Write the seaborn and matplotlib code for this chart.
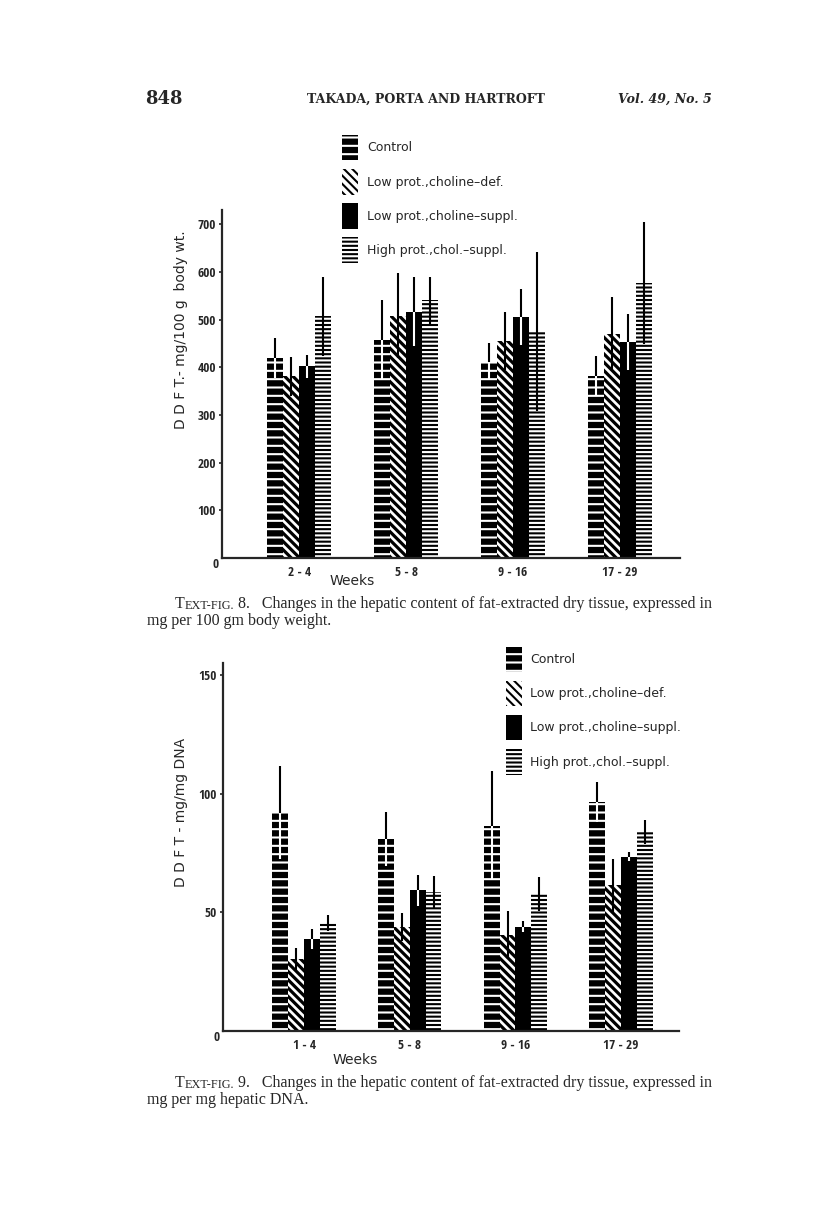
import matplotlib
matplotlib.use('Agg')
import matplotlib.pyplot as plt
from matplotlib import font_manager
from matplotlib.patches import Patch
import numpy as np
import pandas as pd
import seaborn as sns

# diets (hue levels) and their fill patterns
diets = ['Control', 'Low prot.,choline–def.', 'Low prot.,choline–suppl.', 'High prot.,chol.–suppl.']
patterns = ['--', '\\\\\\\\', '', '----']
faces = ['black', 'white', 'black', 'black']
hatch_colors = ['white', 'black', 'white', 'white']
hatch_widths = [1.5, 2.3, 1.5, 1.5]
lower_err_colors = ['white', 'black', 'white', 'black']

# Text-fig. 8: mg per 100 g body weight
weeks_8 = ['2 - 4', '5 - 8', '9 - 16', '17 - 29']
control_8 = [419, 458, 412, 381]
lowdef_8 = [381, 508, 456, 470]
lowsup_8 = [402, 517, 506, 453]
highsup_8 = [507, 541, 475, 577]
control_8_err = [42, 84, 39, 42]
lowdef_8_err = [40, 89, 61, 78]
lowsup_8_err = [24, 73, 58, 59]
highsup_8_err = [83, 49, 167, 128]
yticks_8 = [100, 200, 300, 400, 500, 600, 700]

# Text-fig. 9: mg per mg DNA
weeks_9 = ['1 - 4', '5 - 8', '9 - 16', '17 - 29']
control_9 = [91.9, 80.9, 86.4, 96.5]
lowdef_9 = [30.2, 43.9, 40.4, 61.3]
lowsup_9 = [38.7, 59.2, 43.9, 73.4]
highsup_9 = [45.5, 58.5, 57.8, 83.8]
control_9_err = [19.5, 11.4, 22.9, 8.4]
lowdef_9_err = [4.9, 5.8, 10.2, 11.1]
lowsup_9_err = [4.3, 6.5, 2.3, 1.8]
highsup_9_err = [3.5, 6.8, 7.2, 4.9]
yticks_9 = [50, 100, 150]

W, H = 816, 1230

sns.set_style('ticks')
plt.rcParams['font.family'] = ['DejaVu Sans']
plt.rcParams['hatch.linewidth'] = 1.5

# a narrow face for the numbers if one is installed
installed = {f.name for f in font_manager.fontManager.ttflist}
narrow = 'DejaVu Sans'
for name in ['Liberation Sans Narrow', 'Open Sans Condensed', 'Roboto Condensed']:
    if name in installed:
        narrow = name
        break

# without per-patch hatch widths, use a denser diagonal instead
if not hasattr(Patch(), 'set_hatch_linewidth'):
    patterns[1] = '\\\\\\\\\\\\'

tick_font = dict(family=narrow, stretch='condensed', weight='bold', size=9.5)
legend_font = dict(family='DejaVu Sans', size=9)


def px(x, y):
    return x / W, 1 - y / H


def style_patch(p, i):
    p.set_facecolor(faces[i])
    p.set_edgecolor(hatch_colors[i])
    p.set_linewidth(0)
    p.set_hatch(patterns[i])
    if hasattr(p, 'set_hatch_linewidth'):
        p.set_hatch_linewidth(hatch_widths[i])


def draw_chart(ax, weeks, series, errors, yticks, ylim, xlim, ylabel):
    rows = []
    for diet, vals in zip(diets, series):
        for wk, v in zip(weeks, vals):
            rows.append({'weeks': wk, 'diet': diet, 'value': v})
    df = pd.DataFrame(rows)
    sns.barplot(data=df, x='weeks', y='value', hue='diet', order=weeks, hue_order=diets,
                palette=['black'] * 4, width=0.6, gap=0, saturation=1,
                errorbar=None, legend=False, ax=ax)
    for i, (cont, vals, errs) in enumerate(zip(ax.containers, series, errors)):
        xs = []
        for bar in cont:
            style_patch(bar, i)
            xs.append(bar.get_x() + bar.get_width() / 2)
        zeros = np.zeros(len(vals))
        ax.errorbar(xs, vals, yerr=[zeros, errs], fmt='none', ecolor='black',
                    elinewidth=1.5, capsize=0, zorder=3)
        ax.errorbar(xs, vals, yerr=[errs, zeros], fmt='none', ecolor=lower_err_colors[i],
                    elinewidth=1.5, capsize=0, zorder=3)
    sns.despine(ax=ax)
    for sp in ['left', 'bottom']:
        ax.spines[sp].set_linewidth(1.6)
    ax.set_ylim(*ylim)
    ax.set_xlim(*xlim)
    ax.set_yticks(yticks)
    ax.set_yticklabels([str(t) for t in yticks], fontdict=tick_font)
    ax.set_xticks(range(len(weeks)))
    ax.set_xticklabels(weeks, fontdict=tick_font)
    ax.tick_params(axis='y', direction='out', length=2.5, width=1.2, pad=1.5)
    ax.tick_params(axis='x', length=0, pad=6)
    ax.text(-0.006, 0, '0', transform=ax.get_yaxis_transform(), ha='right', va='top',
            fontdict=tick_font)
    ax.set_ylabel(ylabel, fontsize=10)
    ax.set_xlabel('Weeks', fontsize=10)


def add_legend(fig, ax, x, y, textpad):
    handles = []
    for i in range(len(diets)):
        p = Patch()
        style_patch(p, i)
        handles.append(p)
    ax.legend(handles, diets, loc='upper left', bbox_to_anchor=px(x, y),
              bbox_transform=fig.transFigure, frameon=False, borderpad=0,
              borderaxespad=0, handlelength=1.3, handleheight=2.75,
              handletextpad=textpad, labelspacing=0.7, prop=legend_font)


def caption(fig, ax, x1, x2, y, num, rest, line2):
    serif = dict(family='Liberation Serif', size=11.5)
    t = fig.text(*px(x1, y), 'T', va='bottom', ha='left', fontdict=serif)
    s = ax.annotate('EXT-FIG.', xy=(1, 0), xycoords=t, va='bottom', ha='left',
                    family='Liberation Serif', size=8.8, annotation_clip=False)
    ax.annotate(' ' + num + '.   ' + rest, xy=(1, 0), xycoords=s, va='bottom', ha='left',
                family='Liberation Serif', size=11.5, annotation_clip=False)
    fig.text(*px(x2, y + 17), line2, va='bottom', ha='left', fontdict=serif)


fig = plt.figure(figsize=(W / 100, H / 100), dpi=100)

ax1 = fig.add_axes([0.2717, 0.5463, 0.5616, 0.2829])
draw_chart(ax1, weeks_8,
           [control_8, lowdef_8, lowsup_8, highsup_8],
           [control_8_err, lowdef_8_err, lowsup_8_err, highsup_8_err],
           yticks_8, (0, 730), (-0.728, 3.563), 'D D F T.- mg/100 g  body wt.')
ax1.yaxis.set_label_coords(-0.0735, 0.655)
ax1.xaxis.set_label_coords(0.284, -0.045)
add_legend(fig, ax1, 341.7, 135, 0.75)

ax2 = fig.add_axes([0.2729, 0.1618, 0.5588, 0.2992])
draw_chart(ax2, weeks_9,
           [control_9, lowdef_9, lowsup_9, highsup_9],
           [control_9_err, lowdef_9_err, lowsup_9_err, highsup_9_err],
           yticks_9, (0, 155), (-0.771, 3.545), 'D D F T - mg/mg DNA')
ax2.yaxis.set_label_coords(-0.076, 0.595)
ax2.xaxis.set_label_coords(0.29, -0.06)
add_legend(fig, ax2, 506, 646.7, 0.65)

# page header
fig.text(*px(145, 99), '848', ha='left', va='center', family='DejaVu Serif',
         weight='bold', size=13)
fig.text(*px(426, 99), 'TAKADA, PORTA AND HARTROFT', ha='center', va='center',
         family='DejaVu Serif', weight='bold', size=9)
fig.text(*px(712, 99), 'Vol. 49, No. 5', ha='right', va='center', family='DejaVu Serif',
         weight='bold', style='italic', size=9)

caption(fig, ax1, 175, 147, 612, '8',
        'Changes in the hepatic content of fat-extracted dry tissue, expressed in',
        'mg per 100 gm body weight.')
caption(fig, ax2, 175, 147, 1091, '9',
        'Changes in the hepatic content of fat-extracted dry tissue, expressed in',
        'mg per mg hepatic DNA.')

fig.savefig('out.png', dpi=100)
